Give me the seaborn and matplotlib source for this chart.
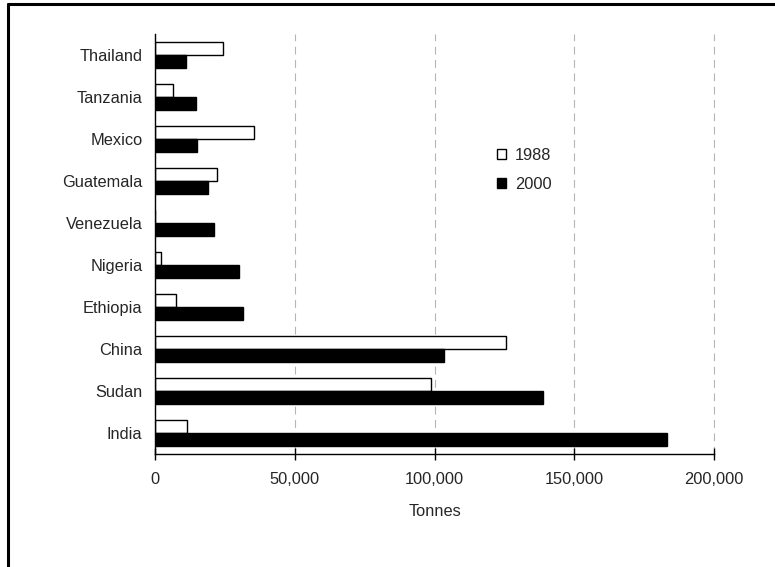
import pandas as pd
import matplotlib
matplotlib.use("Agg")
import matplotlib.pyplot as plt
import seaborn as sns
from matplotlib.lines import Line2D
from matplotlib.ticker import StrMethodFormatter

# -----------------------------
# Data (tonnes)
# -----------------------------
countries = ["Thailand", "Tanzania", "Mexico", "Guatemala", "Venezuela",
             "Nigeria", "Ethiopia", "China", "Sudan", "India"]
tonnes_1988 = [24300, 6400, 35400, 22200, 0, 2000, 7500, 125700, 98700, 11300]
tonnes_2000 = [11100, 14700, 15000, 19000, 21100, 30100, 31500, 103300, 138800, 183200]
years = ["1988", "2000"]
x_ticks = [0, 50000, 100000, 150000, 200000]

df = pd.DataFrame({
    "country": countries * 2,
    "tonnes": tonnes_1988 + tonnes_2000,
    "year": [years[0]] * len(countries) + [years[1]] * len(countries),
})

# -----------------------------
# Style
# -----------------------------
sns.set_style("white")
plt.rcParams["font.family"] = ["Liberation Sans", "DejaVu Sans"]
fs = 11.8
plt.rcParams["font.size"] = fs

fig = plt.figure(figsize=(7.75, 5.67), dpi=100)
W, H = 775, 567
ax = fig.add_axes([155 / W, 1 - 454 / H, (714 - 155) / W, (454 - 34) / H])

sns.barplot(data=df, y="country", x="tonnes", hue="year", orient="h",
            order=countries, hue_order=years, palette=["white", "black"],
            edgecolor="black", linewidth=1, width=0.61, ax=ax)

# -----------------------------
# Axes
# -----------------------------
ax.set_xlim(0, 200000)
ax.set_xticks(x_ticks)
ax.xaxis.set_major_formatter(StrMethodFormatter("{x:,.0f}"))
ax.set_xlabel("Tonnes", labelpad=12, fontsize=fs)
ax.set_ylabel("")
ax.set_axisbelow(True)
ax.grid(axis="x", color="#b5b5b5", linestyle=(0, (7, 5)), linewidth=0.8)
ax.grid(axis="y", visible=False)
for g in ax.xaxis.get_gridlines():
    g.set_clip_on(False)
for s in ["top", "right"]:
    ax.spines[s].set_visible(False)
for s in ["left", "bottom"]:
    ax.spines[s].set_color("black")
    ax.spines[s].set_linewidth(1)
ax.tick_params(axis="x", bottom=True, direction="inout", length=8, width=1,
               color="black", pad=9, labelsize=fs)
ax.tick_params(axis="y", left=False, length=0, pad=9, labelsize=fs)

# legend
handles = [plt.Rectangle((0, 0), 1, 1, facecolor="white", edgecolor="black", linewidth=1),
           plt.Rectangle((0, 0), 1, 1, facecolor="black", edgecolor="black", linewidth=1)]
ax.legend(handles, years, frameon=False, loc="upper left",
          bbox_to_anchor=(497 / W, 1 - 148 / H), bbox_transform=fig.transFigure,
          borderpad=0, borderaxespad=0, handlelength=0.55, handleheight=0.55,
          handletextpad=0.55, labelspacing=0.85, fontsize=fs)

# outer frame (clipped at right and bottom)
fig.add_artist(Line2D([8 / W, 1], [1 - 4 / H, 1 - 4 / H], color="black", linewidth=2.2,
                      transform=fig.transFigure))
fig.add_artist(Line2D([8 / W, 8 / W], [0, 1 - 4 / H], color="black", linewidth=2.2,
                      transform=fig.transFigure))

fig.savefig("out.png", dpi=100)
